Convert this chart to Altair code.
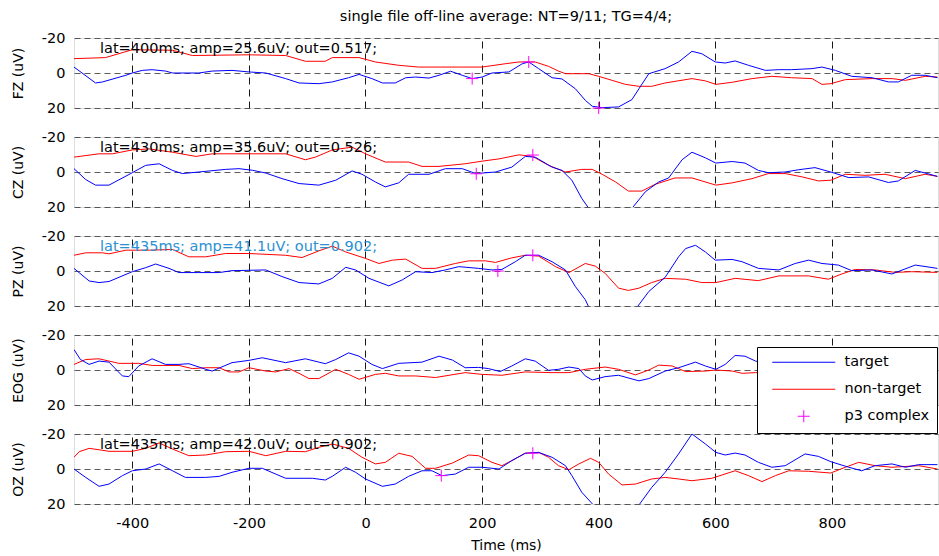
import altair as alt
import pandas as pd

# ---------------- data (time ms, amplitude uV) ----------------
FZ_TARGET = [(-500,-3.4),(-463,5.7),(-451,5.1),(-411,1.3),(-400,0),(-383,-1.5),(-366,-1.9),(-343,-1.1),(-331,0),(-286,0),(-263,-1.1),(-229,-1.5),(-200,-0.6),(-171,0),(-137,3.2),(-114,5.7),(-80,6.1),(-57,5.1),(-29,2.7),(-11,0.8),(11,3.2),(29,5.7),(51,5.7),(69,2.7),(86,2.3),(109,2.9),(126,1.3),(146,-1),(166,1.3),(183,3.2),(200,2.3),(217,0),(246,-0.6),(269,-5.3),(280,-6.3),(297,-2.5),(320,2.7),(337,3.4),(360,9),(377,15.6),(389,19),(406,19.8),(434,19.4),(457,15.2),(469,9),(486,0.4),(514,-2.5),(537,-6.3),(560,-12.4),(577,-11),(600,-6.3),(617,-5.7),(634,-6.9),(657,-4.4),(686,-1.5),(709,-1.9),(731,-1.9),(766,-2.5),(783,-3.4),(806,-1.5),(834,1.9),(869,2.7),(897,5.1),(914,5.1),(937,1.3),(960,1.3),(981,2.7)]
FZ_NONTARGET = [(-500,-8.2),(-446,-8.8),(-400,-13.3),(-331,-13.0),(-297,-10),(-200,-10.4),(-137,-10),(-103,-6.7),(-69,-6.7),(-57,-8.8),(-11,-8.8),(17,-6.3),(57,-4.4),(91,-3.4),(131,-3.4),(160,-3.4),(200,-3.4),(240,-5.3),(263,-6.3),(291,-6.3),(314,-3.8),(331,-1.1),(343,0.4),(383,0.4),(400,1.9),(423,4.2),(446,6.5),(469,7.6),(491,7.6),(514,5.7),(560,3.2),(583,4.5),(601,6.5),(629,5.3),(663,3.2),(697,1.9),(731,2.7),(766,3.2),(783,6.5),(798,6.1),(823,3.8),(869,3.2),(903,3.2),(926,4.2),(960,1.9),(981,2.3)]
FZ_P3 = [(183,3.2),(280,-6.3),(400,20)]

CZ_TARGET = [(-500,-1.9),(-480,4.3),(-463,7.5),(-440,7.5),(-400,0.4),(-377,-3.8),(-354,-4.7),(-331,-0.9),(-314,0.9),(-286,0),(-240,-1.5),(-217,-1.9),(-194,-1),(-171,0.6),(-143,3.8),(-114,6.6),(-80,7.5),(-51,4.7),(-23,-0.6),(-6,1.3),(17,5.7),(34,8.5),(57,6.2),(74,1.3),(109,1.3),(137,-1.9),(166,-1.9),(189,0.9),(223,0),(251,-2.8),(274,-8.9),(291,-8.5),(320,-2.8),(337,-0.9),(354,4.7),(371,15.1),(383,20.8),(400,28),(430,35.6),(445,30),(457,20.8),(480,11.3),(503,5.7),(520,3.4),(543,-7),(560,-11.3),(583,-8.1),(601,-5.1),(629,-6),(651,-5.1),(674,-0.9),(691,0.4),(720,0),(743,-1.3),(771,-2.5),(798,0),(829,3.2),(863,2.8),(897,6),(914,5.1),(943,-0.9),(960,0.6),(981,2.5)]
CZ_NONTARGET = [(-500,-8.5),(-457,-10.4),(-434,-10.4),(-400,-12.6),(-371,-13.2),(-331,-11.3),(-291,-8.9),(-263,-10.4),(-200,-10.4),(-137,-10.4),(-103,-7),(-86,-8.5),(-57,-12.6),(-23,-14.2),(0,-10.4),(34,-5.7),(74,-5.7),(97,-3.2),(126,-3.2),(171,-4.7),(200,-6.2),(229,-7.5),(263,-9.8),(286,-9),(314,-3.8),(343,0),(371,-1.5),(389,-1.5),(406,1.3),(429,5.7),(451,10.9),(474,10.9),(497,7),(531,3.4),(560,3.4),(601,7.5),(629,6.2),(663,3.8),(691,0.9),(720,0.9),(749,2.8),(777,5.1),(798,4.7),(823,1.3),(857,1.9),(891,1.3),(926,3.8),(960,1.3),(981,2.5)]
CZ_P3 = [(190,1),(287,-9.7)]

PZ_TARGET = [(-500,-1.5),(-474,5.7),(-457,6.6),(-440,6),(-400,0.4),(-377,-1.9),(-360,-4),(-337,-1.5),(-320,0.9),(-286,0.9),(-251,0.9),(-229,-0.2),(-171,-0.6),(-143,3.2),(-114,6.6),(-80,7.4),(-57,4.2),(-34,-2.1),(-17,-0.6),(6,4.2),(40,8.5),(63,5.1),(86,0.4),(114,0.9),(137,-0.6),(160,-2.5),(194,-1.5),(217,-0.6),(234,-0.9),(257,-5.3),(274,-9),(297,-9),(320,-5.3),(343,-0.6),(360,8.9),(377,16.4),(383,20.6),(400,28),(435,41.1),(455,30),(466,20.6),(486,11.7),(514,3.6),(537,-8.1),(549,-12.8),(566,-14.7),(583,-10.9),(600,-6.2),(629,-6.6),(646,-5.3),(674,-1.5),(709,-0.6),(737,-4.3),(760,-6.2),(783,-4.3),(811,-3.4),(834,-0.2),(869,-0.6),(903,1.7),(943,-3.4),(981,-1.5)]
PZ_NONTARGET = [(-500,-9),(-480,-10.4),(-451,-10.4),(-440,-9.8),(-411,-11.9),(-371,-11.9),(-331,-12.3),(-303,-8.1),(-274,-8.1),(-240,-10),(-200,-10),(-137,-9),(-109,-7.7),(-80,-11.5),(-57,-14.2),(-34,-10.9),(0,-7.2),(23,-4.3),(46,-6.2),(69,-6.8),(97,-1.5),(120,-1.5),(154,-4.3),(177,-5.8),(206,-5.8),(223,-4.9),(251,-7.5),(274,-9),(297,-8.5),(326,-2.5),(349,0.9),(377,-4.3),(394,-2.8),(411,1.3),(434,9.8),(451,11.1),(469,9.8),(491,6.6),(514,4.2),(549,4.7),(577,6.6),(601,6.6),(634,4.2),(674,5.5),(709,2.8),(760,2.8),(794,4.7),(817,1.7),(840,-0.9),(874,-0.6),(909,0.8),(937,0.4),(981,0.8)]
PZ_P3 = [(227,0),(287,-9)]

EOG_TARGET = [(-500,-11.7),(-489,-6),(-474,-3.2),(-457,-5.1),(-440,-4.5),(-417,3.4),(-406,3.8),(-389,-2.3),(-366,-6.4),(-343,-3.2),(-320,-3.2),(-303,-3.6),(-274,-0.4),(-263,0.6),(-229,-4.2),(-200,-5.5),(-177,-7),(-137,-4.2),(-103,-6.4),(-69,-3.6),(-51,-6),(-29,-9.8),(-11,-7.9),(11,-3.2),(29,-0.8),(57,-3.8),(97,-4.5),(126,-7.9),(149,-5.7),(171,-1.3),(194,-1.5),(211,-0.8),(231,0.9),(251,-2.3),(274,-6.4),(291,-5.1),(314,0.2),(331,-0.4),(349,-1.7),(366,-0.8),(377,3.4),(389,5.7),(411,3.8),(434,3),(469,6.2),(486,4.9),(514,0.6),(537,-1.3),(566,-4.5),(583,-2.3),(601,-0.4),(617,-3.2),(634,-8.3),(651,-7.9),(669,-5.1),(700,-3)]
EOG_NONTARGET = [(-500,-3.2),(-480,-6),(-457,-6.4),(-440,-5.1),(-423,-3.8),(-389,-3.8),(-366,-2.6),(-320,-2.6),(-297,-0.8),(-274,-1.3),(-251,-1.3),(-234,1.1),(-217,1.1),(-200,-1.3),(-171,0.6),(-154,1.1),(-131,-0.8),(-114,1.9),(-97,4.9),(-80,4.9),(-51,-0.4),(-29,2.5),(-11,5.3),(17,2.5),(34,1.9),(57,3.4),(86,3.4),(120,4.3),(171,1.5),(200,2.5),(234,3),(274,1.1),(320,1.5),(349,1.5),(377,-0.4),(411,-1.7),(434,-0.4),(463,2.8),(486,0),(503,-2.8),(526,-2.3),(549,0.9),(583,0.6),(601,0),(629,0.6),(646,1.9),(669,1.5),(700,1.5)]
EOG_P3 = []

OZ_TARGET = [(-500,0),(-480,4.8),(-457,9.9),(-440,8.6),(-417,3.8),(-400,1),(-377,0),(-354,-2.9),(-331,1),(-309,4.8),(-274,4.8),(-251,4.2),(-229,1.9),(-200,-0.4),(-177,-0.4),(-154,2.9),(-137,5.3),(-91,5.3),(-69,6.3),(-57,4.2),(-34,-1),(-17,1.9),(0,5.7),(29,9.9),(51,8.6),(74,4.2),(97,1),(114,1),(131,3.8),(154,2.9),(177,-1),(200,-1),(229,0),(251,-4.8),(274,-9),(297,-9.5),(320,-6.7),(343,-1.9),(354,3.8),(371,13.3),(391,20.6),(410,30),(435,42),(455,30),(469,20.6),(491,10.5),(514,1.9),(537,-8.6),(560,-20),(583,-14.3),(601,-9.5),(617,-8),(634,-9.1),(651,-8),(674,-3.8),(697,-1),(720,-1.9),(754,-8.6),(777,-7.2),(798,-4.2),(829,-1),(851,1),(874,-1.9),(903,-2.9),(926,-1),(949,-2.5),(981,-2.5)]
OZ_NONTARGET = [(-500,-6.7),(-491,-9.9),(-474,-11.8),(-457,-11),(-440,-10.1),(-400,-10.1),(-377,-11.8),(-354,-14.9),(-331,-11.4),(-303,-7.6),(-274,-8),(-240,-9.9),(-200,-10.1),(-171,-7.6),(-137,-10.1),(-103,-9.9),(-80,-12.4),(-57,-14.3),(-29,-11.8),(-6,-6.7),(17,-2.9),(34,-3.8),(57,-9),(80,-7.2),(103,-0.4),(120,-0.4),(149,-3.4),(177,-8),(194,-7.6),(217,-3.8),(234,-1.9),(251,-4.8),(274,-9),(297,-9.5),(314,-6.7),(331,-1.9),(349,0.4),(366,-2.9),(386,-6.1),(400,-3.8),(417,2.9),(440,9.1),(463,8.6),(491,5.7),(514,4.8),(537,5.7),(560,6.7),(594,5.3),(634,1),(657,3.8),(680,7.2),(703,3.8),(726,1),(760,1.3),(798,2.3),(823,-1),(846,-3.8),(874,-1.9),(903,-1),(949,-1.9),(981,0)]
OZ_P3 = [(130,3.8),(287,-9)]

CHANNELS = ["FZ", "CZ", "PZ", "EOG", "OZ"]
ANNOTATIONS = {
    "FZ": "lat=400ms; amp=25.6uV; out=0.517;",
    "CZ": "lat=430ms; amp=35.6uV; out=0.526;",
    "PZ": "lat=435ms; amp=41.1uV; out=0.902;",
    "EOG": "",
    "OZ": "lat=435ms; amp=42.0uV; out=0.902;",
}
ANNOT_COLORS = {"FZ": "black", "CZ": "black", "PZ": "#2a90d2", "EOG": "black", "OZ": "black"}
SERIES = {
    "FZ": (FZ_TARGET, FZ_NONTARGET, FZ_P3),
    "CZ": (CZ_TARGET, CZ_NONTARGET, CZ_P3),
    "PZ": (PZ_TARGET, PZ_NONTARGET, PZ_P3),
    "EOG": (EOG_TARGET, EOG_NONTARGET, EOG_P3),
    "OZ": (OZ_TARGET, OZ_NONTARGET, OZ_P3),
}
LEGEND_NAMES = ["target", "non-target", "p3 complex"]
LEGEND_COLORS = ["#0000ff", "#ff0000", "#ff00ff"]
X_TICKS = [-400, -200, 0, 200, 400, 600, 800]
Y_TICKS = [-20, 0, 20]
TITLE = "single file off-line average: NT=9/11; TG=4/4;"

FONT = "DejaVu Sans"
W, H = 864, 70
PLUS = "M-1,0H1M0,-1V1"

color_scale = alt.Scale(domain=LEGEND_NAMES, range=LEGEND_COLORS)
shape_scale = alt.Scale(domain=LEGEND_NAMES,
                        range=["M0,0H10.5", "M0,0H10.5", "M4.25,0H6.25M5.25,-1V1"])

legend = alt.Legend(
    title=None, orient="none", legendX=683, legendY=309,
    fillColor="white", strokeColor="black", padding=8,
    labelFont=FONT, labelFontSize=14.5, labelColor="black",
    symbolSize=144, symbolStrokeWidth=1, symbolOpacity=1,
    symbolFillColor="transparent",
    rowPadding=12, labelOffset=65,
)


def panel(ch, bottom):
    tgt, ntg, p3 = SERIES[ch]
    rows = [{"t": t, "v": v, "series": "non-target"} for t, v in ntg]
    rows += [{"t": t, "v": v, "series": "target"} for t, v in tgt]
    df = pd.DataFrame(rows)

    xaxis = alt.Axis(values=X_TICKS, grid=True, gridDash=[7, 5], gridColor="black",
                     gridOpacity=0.9, domain=False, ticks=False,
                     labels=bottom, title="Time (ms)" if bottom else None,
                     labelFont=FONT, labelFontSize=14.5, labelColor="black",
                     labelExpr="'' + datum.value", labelPadding=12,
                     titleFont=FONT, titleFontSize=14, titleFontWeight="normal",
                     titleColor="black", titlePadding=9)
    yaxis = alt.Axis(values=Y_TICKS, grid=True, gridDash=[6, 4], gridColor="#333333",
                     gridOpacity=0.8, domain=False, ticks=False,
                     labelFont=FONT, labelFontSize=14.5, labelColor="black",
                     labelExpr="'' + datum.value", labelPadding=9, labelFlush=False,
                     labelOverlap=False,
                     title=f"{ch} (uV)", titleFont=FONT, titleFontSize=14,
                     titleFontWeight="normal", titleColor="black", titlePadding=16)
    x = alt.X("t:Q", scale=alt.Scale(domain=[-500, 982], nice=False, zero=False), axis=xaxis)
    y = alt.Y("v:Q", scale=alt.Scale(domain=[-20, 20], reverse=True, nice=False, zero=False), axis=yaxis)

    lines = alt.Chart(df).mark_line(clip=True, strokeWidth=1).encode(
        x=x, y=y,
        color=alt.Color("series:N", scale=color_scale, legend=legend),
        detail="series:N",
    )
    layers = [lines]
    if p3:
        mdf = pd.DataFrame([{"t": t, "v": v, "series": "p3 complex"} for t, v in p3])
        marks = alt.Chart(mdf).mark_point(shape=PLUS, size=144, filled=False,
                                          strokeWidth=1, opacity=1, clip=False).encode(
            x=x, y=y,
            color=alt.Color("series:N", scale=color_scale, legend=legend),
        )
        layers.append(marks)
    else:
        # legend carrier: no visible data, only scales for the legend
        leg = alt.Chart(df).transform_filter("false").mark_point(
            filled=False, size=144, strokeWidth=1, opacity=1).encode(
            x=x, y=y,
            color=alt.Color("series:N", scale=color_scale, legend=legend),
            shape=alt.Shape("series:N", scale=shape_scale, legend=legend),
        )
        layers.append(leg)
    if ANNOTATIONS[ch]:
        tdf = pd.DataFrame({"label": [ANNOTATIONS[ch]]})
        txt = alt.Chart(tdf).mark_text(align="left", baseline="middle", font=FONT,
                                       fontSize=14.5, color=ANNOT_COLORS[ch]).encode(
            x=alt.value(26), y=alt.value(10.5), text="label:N")
        layers.append(txt)
    return alt.layer(*layers).properties(width=W, height=H)


panels = [panel(ch, ch == "OZ") for ch in CHANNELS]
chart = alt.vconcat(*panels, spacing=29, bounds="flush").properties(
    title=alt.TitleParams(TITLE, anchor="middle", frame="group", font=FONT, fontSize=14.5,
                          fontWeight="normal", color="black", offset=5),
    padding={"left": 10, "top": 9, "right": 0, "bottom": 0},
).configure_view(stroke="black", strokeWidth=1.5).configure(background="white")

chart.save("out.html", embed_options={"renderer": "svg", "actions": False})
